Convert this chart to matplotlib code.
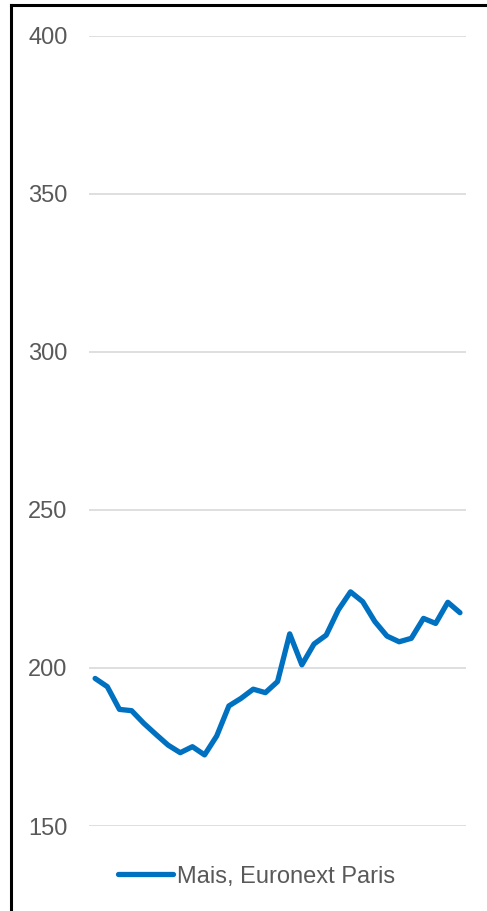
import numpy as np
import matplotlib.pyplot as plt
from matplotlib.lines import Line2D

plt.rcParams['font.family'] = ['Liberation Sans', 'DejaVu Sans']

# price series (weekly points)
prices = [196.7, 194.1, 186.9, 186.5, 182.5, 179.0, 175.6, 173.2, 175.1, 172.5,
          178.5, 188.0, 190.4, 193.3, 192.2, 195.7, 210.8, 201.0, 207.6, 210.4,
          218.4, 224.1, 221.0, 214.7, 210.1, 208.3, 209.4, 215.7, 214.1, 220.8,
          217.5]
series_label = 'Mais, Euronext Paris'
y_ticks = [150, 200, 250, 300, 350, 400]

fig = plt.figure(figsize=(4.87, 9.11), dpi=100)
ax = fig.add_axes([0.1828, 0.0933, 0.7742, 0.8672])

x = np.arange(len(prices))
ax.plot(x, prices, color='#0070C0', linewidth=3.8, solid_capstyle='round',
        solid_joinstyle='round', label=series_label, zorder=3)

ax.set_xlim(-0.5, len(prices) - 0.5)
ax.set_ylim(150, 400)
ax.set_yticks(y_ticks)
ax.set_xticks([])
ax.grid(axis='y', color='#D9D9D9', linewidth=1.2)
ax.set_axisbelow(True)
for s in ax.spines.values():
    s.set_visible(False)
ax.tick_params(axis='y', length=0, pad=15.5, labelsize=17, labelcolor='#595959')

leg = fig.legend(loc='center', bbox_to_anchor=(0.527, 0.0376), frameon=False,
                 fontsize=17, handlelength=2.33, handletextpad=0.15)
for t in leg.get_texts():
    t.set_color('#595959')

# outer frame (top and left edges visible)
fig.add_artist(Line2D([0.0226, 1.0], [0.9945, 0.9945], color='black', linewidth=2.2,
                      transform=fig.transFigure))
fig.add_artist(Line2D([0.0226, 0.0226], [0.0, 0.9945], color='black', linewidth=2.2,
                      transform=fig.transFigure))

fig.savefig('out.png', dpi=100)
